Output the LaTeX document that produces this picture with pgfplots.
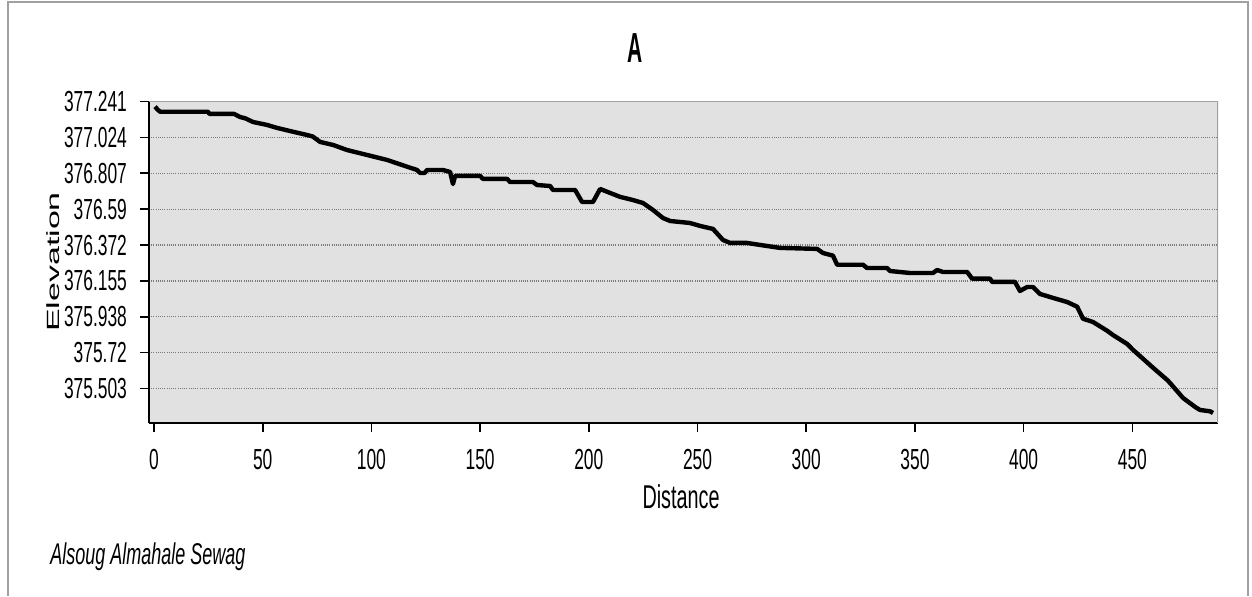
\documentclass[border=0pt]{standalone}
\usepackage{fontspec}
\usepackage{graphicx}
\setmainfont[FakeStretch=0.6]{Liberation Sans}
\newfontfamily\plainfont{Liberation Sans}
\newfontfamily\titlefont[FakeStretch=0.5]{Liberation Sans}
\usepackage{pgfplots}
\pgfplotsset{compat=1.18}
\definecolor{plotbg}{HTML}{E1E1E1}
\definecolor{framegray}{HTML}{A0A0A0}
\definecolor{gridgray}{HTML}{7A7A7A}

\begin{document}
\begin{tikzpicture}
% page frame, 1px = 0.5pt
\path[use as bounding box] (0,0) rectangle (626pt,298pt);
\draw[framegray, line width=1pt] (4pt,0) -- (4pt,297pt) -- (624pt,297pt) -- (624pt,0);

\begin{axis}[
    at={(74.5pt,86.5pt)}, anchor=south west,
    scale only axis,
    width=534.5pt, height=161pt,
    xmin=-2.3, xmax=489.4,
    ymin=375.294, ymax=377.245,
    axis x line*=bottom, axis y line*=left,
    axis line style={black, line width=1pt},
    axis background/.style={fill=plotbg},
    xtick={0,50,...,450},
    ytick={377.241,377.024,376.807,376.59,376.372,376.155,375.938,375.72,375.503},
    yticklabels={377.241,377.024,376.807,376.59,376.372,376.155,375.938,375.72,375.503},
    tick align=outside,
    major tick length=4.5pt,
    tick style={black, line width=0.8pt},
    /pgf/number format/assume math mode=true,
    ticklabel style={font=\fontsize{14.5pt}{16pt}\selectfont},
    yticklabel style={xshift=-3pt},
    xticklabel style={yshift=-5pt},
    ymajorgrids,
    major grid style={gridgray, line width=0.6pt, dash pattern=on 0.5pt off 0.6pt},
    title={\titlefont\bfseries\fontsize{21pt}{24pt}\selectfont A},
    title style={at={(axis description cs:0.4546,1.127)}, anchor=center},
    xlabel={\fontsize{16.5pt}{18pt}\selectfont Distance},
    xlabel style={at={(axis description cs:0.4977,-0.23)}, anchor=center},
    ylabel={\scalebox{1}[0.52]{\plainfont\fontsize{17pt}{19pt}\selectfont Elevation}},
    ylabel style={at={(axis description cs:-0.09,0.5)}, anchor=center},
    clip=true,
]
\addplot[black, line width=2.2pt, line join=round] coordinates {
(0.5,377.211) (1.5,377.195) (2.8,377.180) (24.8,377.180) (25.5,377.167)
(36.8,377.167) (39.6,377.148) (42.0,377.140) (45.5,377.118) (52.0,377.100)
(56.6,377.082) (62.6,377.063) (70.4,377.039) (73.0,377.030) (76.4,376.997)
(82.3,376.979) (88.8,376.948) (98.0,376.918) (107.2,376.888) (116.4,376.847)
(121.0,376.827) (122.4,376.809) (124.5,376.809) (125.6,376.827) (132.9,376.827)
(136.2,376.815) (137.5,376.742) (138.5,376.791) (150.0,376.791) (151.3,376.773)
(162.4,376.773) (163.8,376.754) (174.3,376.754) (176.2,376.736) (182.2,376.730)
(183.5,376.706) (193.7,376.706) (196.9,376.633) (201.9,376.633) (205.2,376.712)
(209.8,376.688) (214.4,376.664) (220.3,376.645) (224.9,376.627) (229.5,376.585)
(234.1,376.536) (237.4,376.518) (246.5,376.506) (251.2,376.488) (257.1,376.470)
(261.7,376.403) (265.0,376.385) (272.8,376.385) (278.7,376.373) (287.9,376.355)
(305.0,376.349) (307.7,376.324) (312.3,376.308) (314.2,376.253) (326.1,376.253)
(328.0,376.233) (337.2,376.233) (338.5,376.215) (347.7,376.203) (358.3,376.203)
(360.2,376.221) (362.9,376.209) (374.0,376.209) (376.3,376.169) (384.5,376.169)
(385.5,376.149) (396.0,376.149) (398.3,376.094) (401.6,376.118) (404.3,376.118)
(407.5,376.076) (413.5,376.052) (420.0,376.027) (424.6,375.999) (427.3,375.926)
(431.9,375.906) (438.4,375.853) (441.1,375.827) (447.6,375.773) (450.3,375.737)
(453.5,375.700) (459.5,375.629) (466.0,375.555) (467.3,375.537) (473.3,375.446)
(479.0,375.390) (481.1,375.373) (485.7,375.365) (487.1,375.355)
};
\draw[framegray, line width=1pt] (rel axis cs:0,1) -- (rel axis cs:1,1) -- (rel axis cs:1,0);
\end{axis}

\node[anchor=west, inner sep=0pt, font=\itshape\fontsize{15pt}{17pt}\selectfont]
    at (25pt,19.5pt) {Alsoug Almahale Sewag};
\end{tikzpicture}
\end{document}
